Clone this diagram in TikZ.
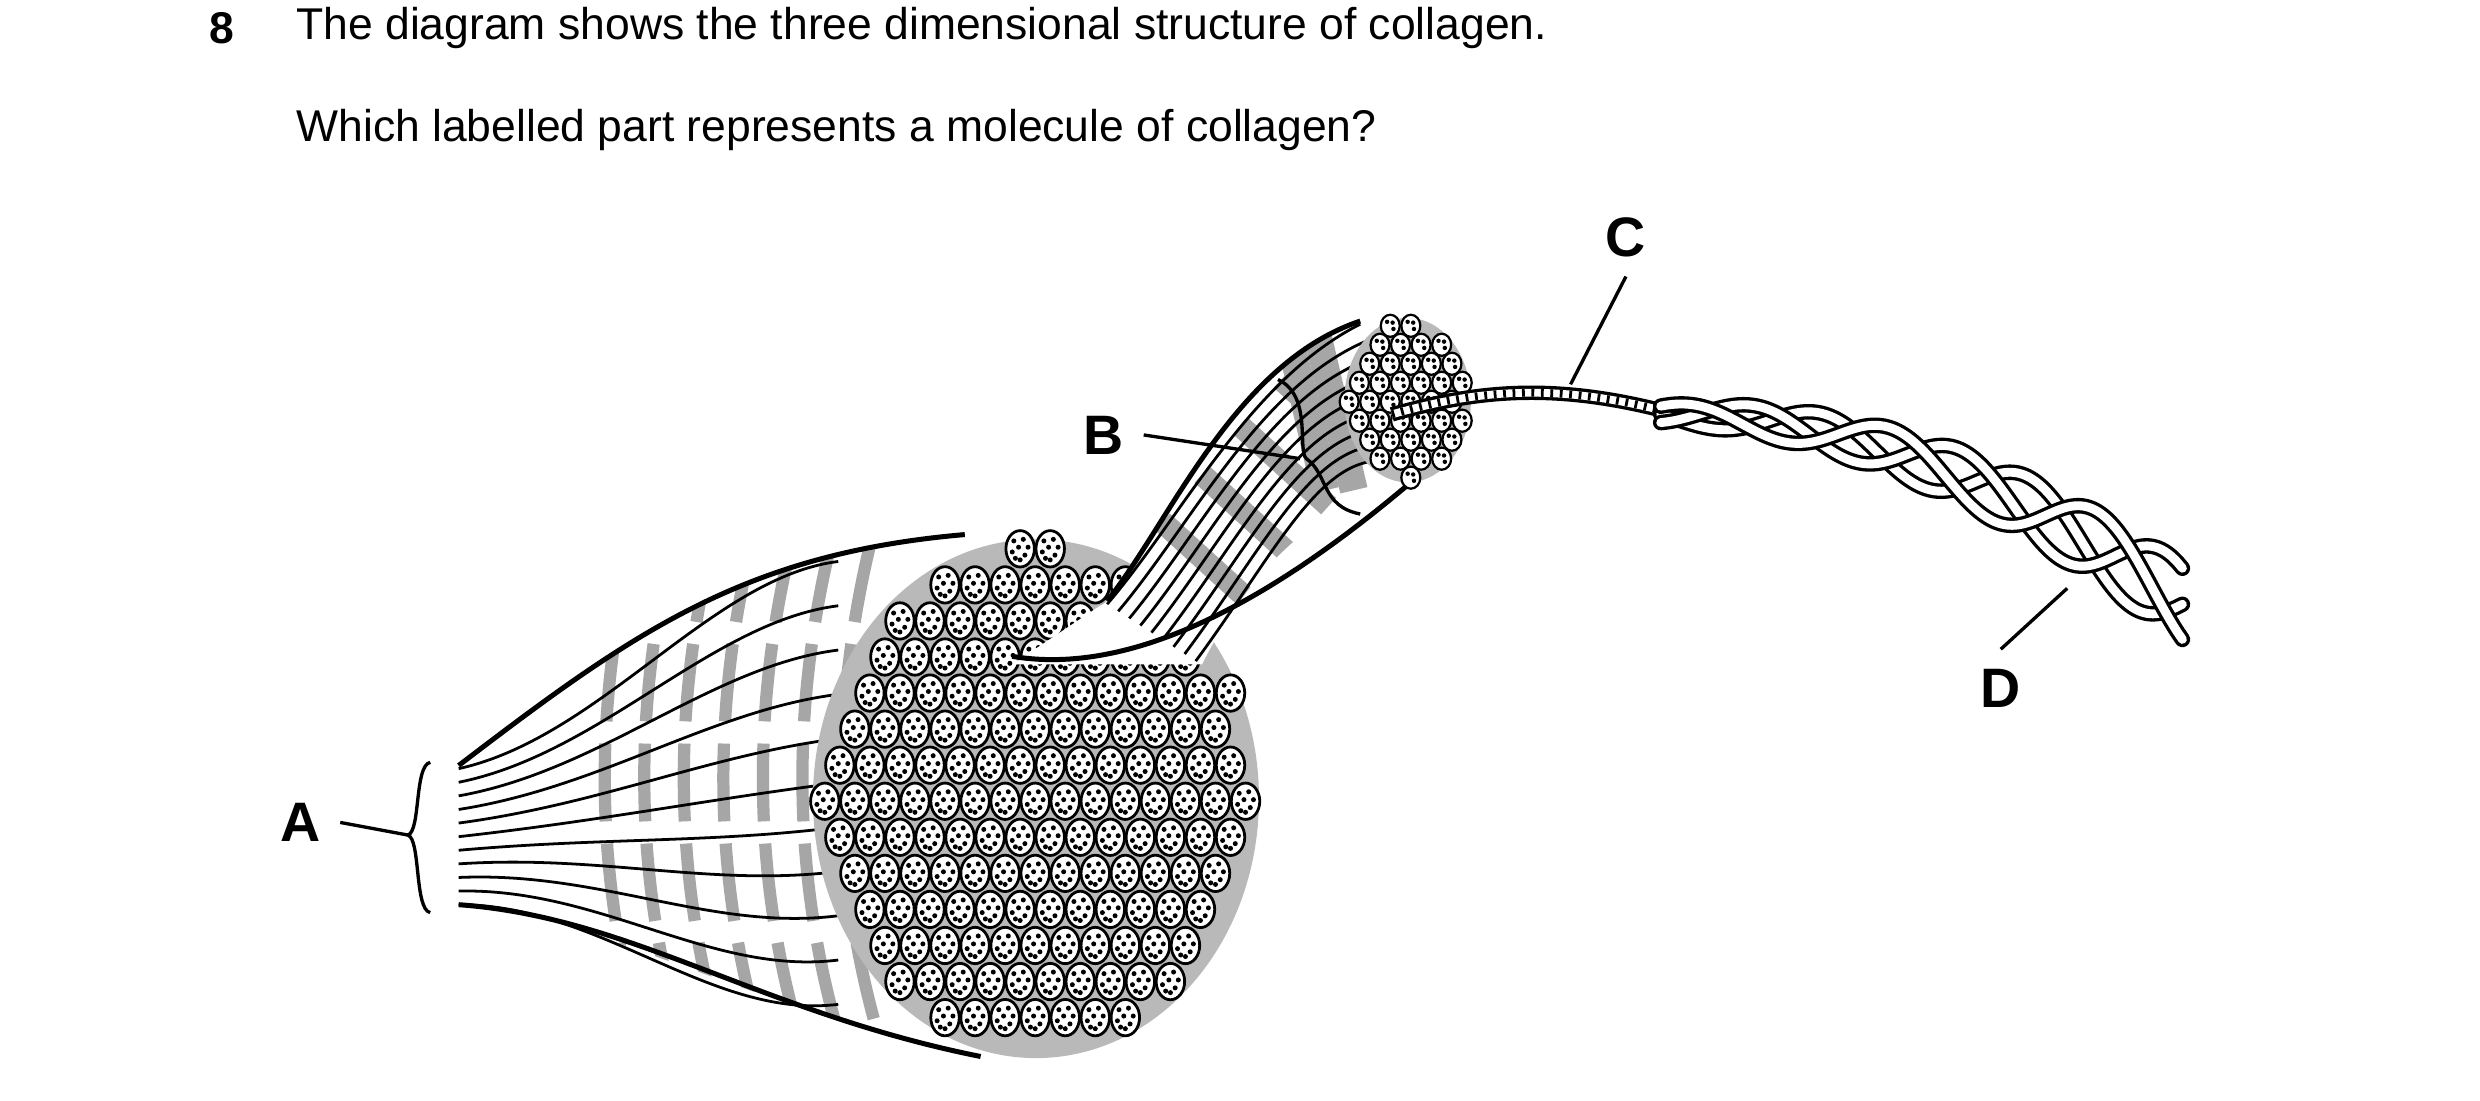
\documentclass[tikz,border=0pt]{standalone}
\usepackage{fontspec}
\setmainfont{Liberation Sans}
\begin{document}
\begin{tikzpicture}[x=0.1mm,y=-0.1mm,
  lbl/.style={font=\fontsize{10}{12}\selectfont\bfseries},
  txt/.style={font=\fontsize{8}{10}\selectfont,anchor=west},
  fib/.style={line width=0.5pt},
  band/.style={gray!70,line width=2.2pt},
  cell/.style={draw,line width=0.5pt,fill=white}]
\useasboundingbox (0,0) rectangle (1568,696);
\node[txt,font=\fontsize{8}{10}\selectfont\bfseries] (n8) at (120,18) {8};
\node[txt] (q1) at (175,18) {The diagram shows the three dimensional structure of collagen.};
\node[txt] (q2) at (175,82) {Which labelled part represents a molecule of collagen?};
% ---- big fibre region
\begin{scope}
\clip (290,484) .. controls (400,400) and (470,350) .. (610,338) -- (660,340) -- (640,660) -- (620,668) .. controls (480,640) and (380,580) .. (290,572) -- cycle;
\fill[white] (280,330) rectangle (700,680);
\foreach \xx in {400,425,450,475,500,525,550}
  \draw[band,dash pattern=on 14pt off 4pt] (\xx,345) .. controls (\xx-25,450) and (\xx-25,560) .. (\xx+10,670);
\end{scope}
\foreach \i in {0,...,10}{
  \pgfmathsetmacro\ya{486+8.6*\i}
  \pgfmathsetmacro\yb{355+28*\i}
  \draw[fib] (290,\ya) .. controls (380,\ya-20+2*\i) and (450,\yb+10) .. (530,\yb);
}
\draw[line width=0.9pt] (290,484) .. controls (400,400) and (470,350) .. (610,338);
\draw[line width=0.9pt] (290,572) .. controls (400,580) and (480,640) .. (620,668);
% ---- big bundle end
\fill[gray!55] (655,505) ellipse [x radius=141,y radius=164];
\foreach \r in {0,...,14}{
 \foreach \c in {0,...,15}{
  \pgfmathsetmacro\px{512+\c*19+mod(\r,2)*9.5}
  \pgfmathsetmacro\py{347+\r*22.8}
  \pgfmathsetmacro\dd{((\px-655)/140)^2+((\py-505)/163)^2}
  \ifdim\dd pt<0.95pt
   \draw[cell] (\px,\py) ellipse [x radius=9,y radius=11.5];
   \foreach \ox/\oy in {-4/-5,2/-6,5/-1,-1/-1,-5/2,3/4,0/7,-3/6}
     \fill (\px+\ox,\py+\oy) circle (0.45pt);
  \fi
 }}
% ---- B bundle
\begin{scope}
\clip (700,380) .. controls (740,330) and (780,230) .. (860,203) -- (900,205) -- (892,305) .. controls (820,320) and (780,380) .. (760,420) -- (640,420) -- cycle;
\fill[white] (620,190) rectangle (920,425);
\foreach \t in {0,1,2,3}
  \draw[gray!70,line width=4pt] (735+25*\t,330-30*\t) -- (790+25*\t,380-30*\t);
\foreach \t in {0,1}
  \draw[gray!70,line width=5pt] (815+18*\t,212) -- (838+18*\t,310);
\end{scope}
\foreach \i in {0,...,8}{
  \draw[fib] (700+7*\i,382+4.5*\i) .. controls (745+8*\i,330+2*\i) and (790+6*\i,240+5*\i) .. (860+3*\i,205+11*\i);
}
\draw[line width=0.9pt] (700,380) .. controls (740,330) and (780,230) .. (860,203);
\draw[line width=0.9pt] (640,415) .. controls (700,425) and (780,400) .. (892,305);
\fill[gray!55] (890,253) ellipse [x radius=40,y radius=52];
\foreach \r in {0,...,8}{
 \foreach \c in {0,...,6}{
  \pgfmathsetmacro\px{853+\c*13+mod(\r,2)*6.5}
  \pgfmathsetmacro\py{206+\r*12}
  \pgfmathsetmacro\dd{((\px-890)/40)^2+((\py-253)/52)^2}
  \ifdim\dd pt<0.92pt
   \draw[cell,line width=0.4pt] (\px,\py) ellipse [x radius=6,y radius=7];
   \fill (\px-2,\py-2.5) circle (0.4pt);
   \fill (\px+2,\py+2) circle (0.4pt);
   \fill (\px+1.5,\py-2) circle (0.4pt);
  \fi
 }}
% ---- rope C
\draw[line width=2.6pt] (880,262) .. controls (930,248) and (980,240) .. (1060,262);
\draw[white,line width=1.4pt] (880,262) .. controls (930,248) and (980,240) .. (1060,262);
\draw[line width=1.4pt,dash pattern=on 0.5pt off 1.2pt] (880,262) .. controls (930,248) and (980,240) .. (1060,262);
% ---- helix D
\foreach \ph in {0,120,240}{
  \draw[line width=2.8pt,line cap=round] plot[domain=0:1,samples=90,smooth] ({1050+\x*330},{262+\x*\x*120+(6+20*\x)*sin(\ph+\x*900)});
  \draw[white,line width=1.6pt,line cap=round] plot[domain=0:1,samples=90,smooth] ({1050+\x*330},{262+\x*\x*120+(6+20*\x)*sin(\ph+\x*900)});
}
% ---- labels
\node[lbl] (A) at (190,520) {A};
\draw[line width=0.6pt] (272,482) .. controls (262,484) and (266,525) .. (258,528) .. controls (266,531) and (262,575) .. (272,577);
\draw[line width=0.6pt] (A.east) -- (258,528);
\node[lbl] (B) at (698,275) {B};
\draw[line width=0.6pt] (B.east) -- (822,290);
\draw[line width=0.6pt] (808,240) .. controls (830,250) and (820,285) .. (826,290) .. controls (840,300) and (835,320) .. (860,325);
\node[lbl] (C) at (1028,150) {C};
\coordinate (cc) at (993,243);
\draw[line width=0.6pt] (C.south) -- (cc);
\node[lbl] (D) at (1265,435) {D};
\coordinate (dd) at (1307,372);
\draw[line width=0.6pt] (D.north) -- (dd);
\end{tikzpicture}
\end{document}
